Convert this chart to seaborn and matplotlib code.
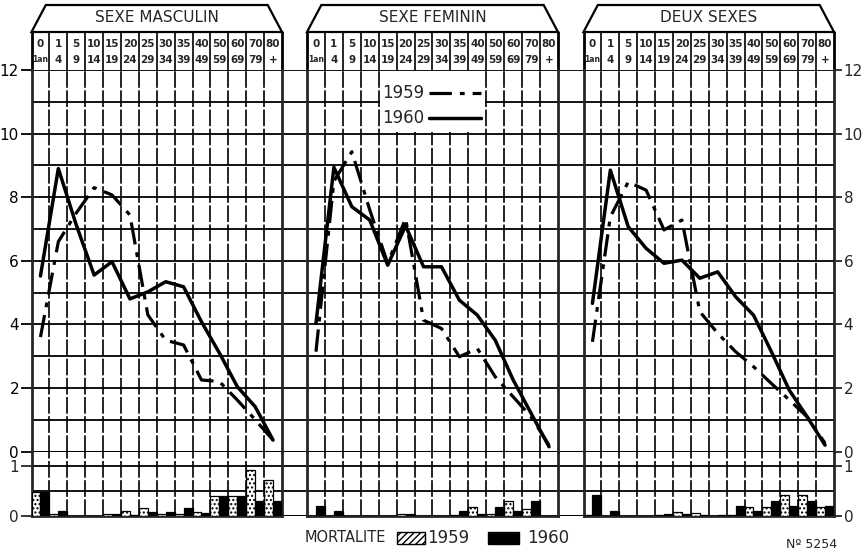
import numpy as np
import pandas as pd
import matplotlib
matplotlib.use("Agg")
import matplotlib.pyplot as plt
import seaborn as sns
from matplotlib.patches import Rectangle, Polygon
from matplotlib.lines import Line2D
from matplotlib.transforms import blended_transform_factory

# ---------------- data ----------------
age_top = ["0", "1", "5", "10", "15", "20", "25", "30", "35", "40", "50", "60", "70", "80"]
age_bottom = ["1an", "4", "9", "14", "19", "24", "29", "34", "39", "49", "59", "69", "79", "+"]
panel_titles = ["SEXE MASCULIN", "SEXE FEMININ", "DEUX SEXES"]
years = ["1959", "1960"]

masc_1959 = [3.6, 6.6, 7.5, 8.3, 8.07, 7.44, 4.3, 3.5, 3.35, 2.25, 2.2, 1.62, 1.0, 0.36]
masc_1960 = [5.52, 8.9, 7.13, 5.55, 5.97, 4.8, 5.02, 5.34, 5.18, 4.08, 3.1, 2.04, 1.41, 0.36]
fem_1959 = [3.14, 8.5, 9.43, 7.6, 5.92, 7.33, 4.13, 3.87, 2.98, 3.24, 2.35, 1.72, 1.09, 0.2]
fem_1960 = [4.03, 8.94, 7.7, 7.28, 5.86, 7.1, 5.81, 5.81, 4.76, 4.29, 3.5, 2.25, 1.2, 0.15]
deux_1959 = [3.45, 7.38, 8.48, 8.22, 6.97, 7.28, 4.4, 3.72, 3.14, 2.67, 2.14, 1.62, 1.09, 0.26]
deux_1960 = [4.66, 8.85, 7.07, 6.39, 5.92, 6.02, 5.45, 5.65, 4.87, 4.29, 3.14, 1.93, 1.09, 0.2]

masc_mort_1959 = [0.48, 0.05, 0.0, 0.0, 0.05, 0.1, 0.17, 0.04, 0.04, 0.08, 0.4, 0.4, 0.92, 0.72]
masc_mort_1960 = [0.48, 0.1, 0.0, 0.0, 0.05, 0.03, 0.08, 0.08, 0.17, 0.06, 0.4, 0.4, 0.3, 0.3]
fem_mort_1959 = [0.0, 0.0, 0.0, 0.0, 0.0, 0.05, 0.0, 0.0, 0.03, 0.19, 0.04, 0.3, 0.15, 0.0]
fem_mort_1960 = [0.2, 0.1, 0.0, 0.0, 0.0, 0.05, 0.0, 0.0, 0.1, 0.05, 0.19, 0.1, 0.3, 0.0]
deux_mort_1959 = [0.03, 0.0, 0.0, 0.0, 0.02, 0.08, 0.06, 0.0, 0.03, 0.19, 0.19, 0.42, 0.42, 0.19]
deux_mort_1960 = [0.42, 0.1, 0.0, 0.0, 0.04, 0.04, 0.02, 0.02, 0.2, 0.1, 0.3, 0.2, 0.3, 0.2]

lines_data = [(masc_1959, masc_1960), (fem_1959, fem_1960), (deux_1959, deux_1960)]
mort_data = [(masc_mort_1959, masc_mort_1960), (fem_mort_1959, fem_mort_1960),
             (deux_mort_1959, deux_mort_1960)]

# ---------------- style ----------------
sns.set_theme(style="white")
plt.rcParams["font.family"] = ["DejaVu Sans"]
plt.rcParams["axes.linewidth"] = 2.0

W, H = 864, 551
fig = plt.figure(figsize=(W / 100, H / 100), dpi=100)
fig.patch.set_facecolor("white")


def fx(px):
    return px / W


def fy(py):
    return 1 - py / H


TOP, ZERO, BOT = 70.0, 451.5, 516.0
BAR_TOP = (BOT - ZERO) / 50.0
panel_px = [(31.5, 282.0), (307.0, 558.0), (583.5, 834.0)]
ncol = len(age_top)
DASHDOT = (0, (7, 2.5, 1.5, 2.5))
INNER = (0, (10, 1.5))

# background horizontal grid lines crossing the gaps
bg = fig.add_axes([fx(31.5), fy(ZERO), fx(834 - 31.5), (ZERO - TOP) / H])
bg.set_xlim(0, 1)
bg.set_ylim(0, 12)
bg.axis("off")
for v in range(0, 13):
    bg.axhline(v, color="black", lw=2.2 if v == 0 else 1.3, zorder=0)

bgb = fig.add_axes([fx(31.5), fy(BOT), fx(834 - 31.5), (BOT - ZERO) / H])
bgb.set_xlim(0, 1)
bgb.set_ylim(0, BAR_TOP)
bgb.axis("off")
for v in [0.0, 0.5, 1.0]:
    bgb.axhline(v, color="black", lw=2.2 if v == 0 else 1.3, zorder=0)

hdr_bottom = 1 + (TOP - 32) / (ZERO - TOP)
hdr_top = 1 + (TOP - 5) / (ZERO - TOP)
row1 = 1 + (TOP - 44) / (ZERO - TOP)
row2 = 1 + (TOP - 60) / (ZERO - TOP)
title_y = 1 + (TOP - 18) / (ZERO - TOP)

for i, (x0, x1) in enumerate(panel_px):
    ax = fig.add_axes([fx(x0), fy(ZERO), fx(x1 - x0), (ZERO - TOP) / H])
    axb = fig.add_axes([fx(x0), fy(BOT), fx(x1 - x0), (BOT - ZERO) / H])
    for a in (ax, axb):
        a.set_facecolor("none")

    # ---- main lines ----
    pos = np.arange(ncol)
    v59, v60 = lines_data[i]
    df = pd.DataFrame({"pos": np.concatenate([pos, pos]),
                       "value": list(v59) + list(v60),
                       "year": ["1959"] * ncol + ["1960"] * ncol})
    sns.lineplot(data=df[df.year == "1959"], x="pos", y="value", ax=ax,
                 color="black", linewidth=2.3, linestyle=DASHDOT, zorder=4)
    sns.lineplot(data=df[df.year == "1960"], x="pos", y="value", ax=ax,
                 color="black", linewidth=2.5, zorder=4)
    ax.set_xlim(-0.5, ncol - 0.5)
    ax.set_ylim(0, 12)
    ax.set_xlabel("")
    ax.set_ylabel("")
    ax.set_xticks([])
    for k in range(1, ncol):
        ax.axvline(k - 0.5, color="black", lw=1.2, linestyle=INNER, zorder=1)
    ax.spines["top"].set_visible(False)
    ax.spines["bottom"].set_visible(False)

    # ---- mortality bars ----
    m59, m60 = mort_data[i]
    dfb = pd.DataFrame({"pos": np.concatenate([pos, pos]),
                        "value": list(m59) + list(m60),
                        "year": ["1959"] * ncol + ["1960"] * ncol})
    sns.barplot(data=dfb, x="pos", y="value", hue="year", hue_order=years,
                order=list(range(ncol)), palette={"1959": "white", "1960": "black"},
                width=1.0, dodge=True, legend=False, ax=axb, errorbar=None,
                saturation=1, edgecolor="black", linewidth=0.9, zorder=3)
    for p in axb.patches:
        fc = p.get_facecolor()
        if fc[0] > 0.5:
            p.set_hatch("....")
    axb.set_xlim(-0.5, ncol - 0.5)
    axb.set_ylim(0, BAR_TOP)
    axb.set_xlabel("")
    axb.set_ylabel("")
    axb.set_xticks([])
    for k in range(1, ncol):
        axb.axvline(k - 0.5, color="black", lw=1.2, linestyle=INNER, zorder=1)
    axb.spines["top"].set_visible(False)

    # ---- ticks ----
    if i == 0:
        ax.set_yticks(range(0, 13, 2))
        ax.tick_params(axis="y", left=True, length=8, width=1.3, labelsize=11, pad=1,
                       direction="out", colors="black")
        axb.set_yticks([0, 1])
        axb.tick_params(axis="y", left=True, length=8, width=1.3, labelsize=11, pad=1,
                        direction="out")
    elif i == 2:
        ax.yaxis.tick_right()
        ax.set_yticks(range(0, 13, 2))
        ax.tick_params(axis="y", right=True, left=False, length=6, width=1.3,
                       labelsize=11, pad=1, direction="out")
        axb.yaxis.tick_right()
        axb.set_yticks([0, 1])
        axb.tick_params(axis="y", right=True, left=False, length=6, width=1.3,
                        labelsize=11, pad=1, direction="out")
    else:
        ax.set_yticks([])
        axb.set_yticks([])

    # ---- header ----
    tr = blended_transform_factory(ax.transData, ax.transAxes)
    for k in range(ncol + 1):
        lw = 2.0 if k in (0, ncol) else 1.2
        ax.add_line(Line2D([k - 0.5, k - 0.5], [1, hdr_bottom], transform=tr,
                           color="black", lw=lw, clip_on=False))
        if k < ncol:
            ax.text(k, row1, age_top[k], transform=tr, ha="center", va="center",
                    fontsize=7.5, fontweight="bold", clip_on=False)
            ax.text(k, row2, age_bottom[k], transform=tr, ha="center", va="center",
                    fontsize=5.5 if k == 0 else 7.5, fontweight="bold", clip_on=False)
    ax.add_patch(Polygon([[-0.5, hdr_bottom], [0.3, hdr_top], [ncol - 1.3, hdr_top],
                          [ncol - 0.5, hdr_bottom]], closed=True, transform=tr,
                         facecolor="none", edgecolor="black", lw=1.6, clip_on=False))
    ax.text((ncol - 1) / 2, title_y, panel_titles[i], transform=tr, ha="center",
            va="center", fontsize=11, clip_on=False)

    # ---- line legend inside the middle panel ----
    if i == 1:
        ax.add_patch(Rectangle((3.55, 10.04), 5.9, 1.92, facecolor="white",
                               edgecolor="none", zorder=3))
        ax.text(3.7, 11.27, "1959", fontsize=12, va="center", ha="left", zorder=5)
        ax.text(3.7, 10.5, "1960", fontsize=12, va="center", ha="left", zorder=5)
        ax.add_line(Line2D([6.3, 9.2], [11.27, 11.27], color="black", lw=2.3,
                           linestyle=DASHDOT, zorder=5))
        ax.add_line(Line2D([6.3, 9.2], [10.5, 10.5], color="black", lw=2.5, zorder=5))

# ---------------- bottom legend ----------------
fig.text(fx(305), fy(538), "MORTALITE", fontsize=10.5, ha="left", va="center")
fig.add_artist(Rectangle((fx(397), fy(544)), fx(28), 12 / H, transform=fig.transFigure,
                         facecolor="white", edgecolor="black", hatch="/////", lw=1.0))
fig.text(fx(427), fy(538), "1959", fontsize=12, ha="left", va="center")
fig.add_artist(Rectangle((fx(488), fy(544)), fx(31), 12 / H, transform=fig.transFigure,
                         facecolor="black", edgecolor="black", lw=1.0))
fig.text(fx(527), fy(538), "1960", fontsize=12, ha="left", va="center")
fig.text(fx(786), fy(545), "Nº 5254", fontsize=9, ha="left", va="center")

fig.savefig("out.png", dpi=100, facecolor="white")
